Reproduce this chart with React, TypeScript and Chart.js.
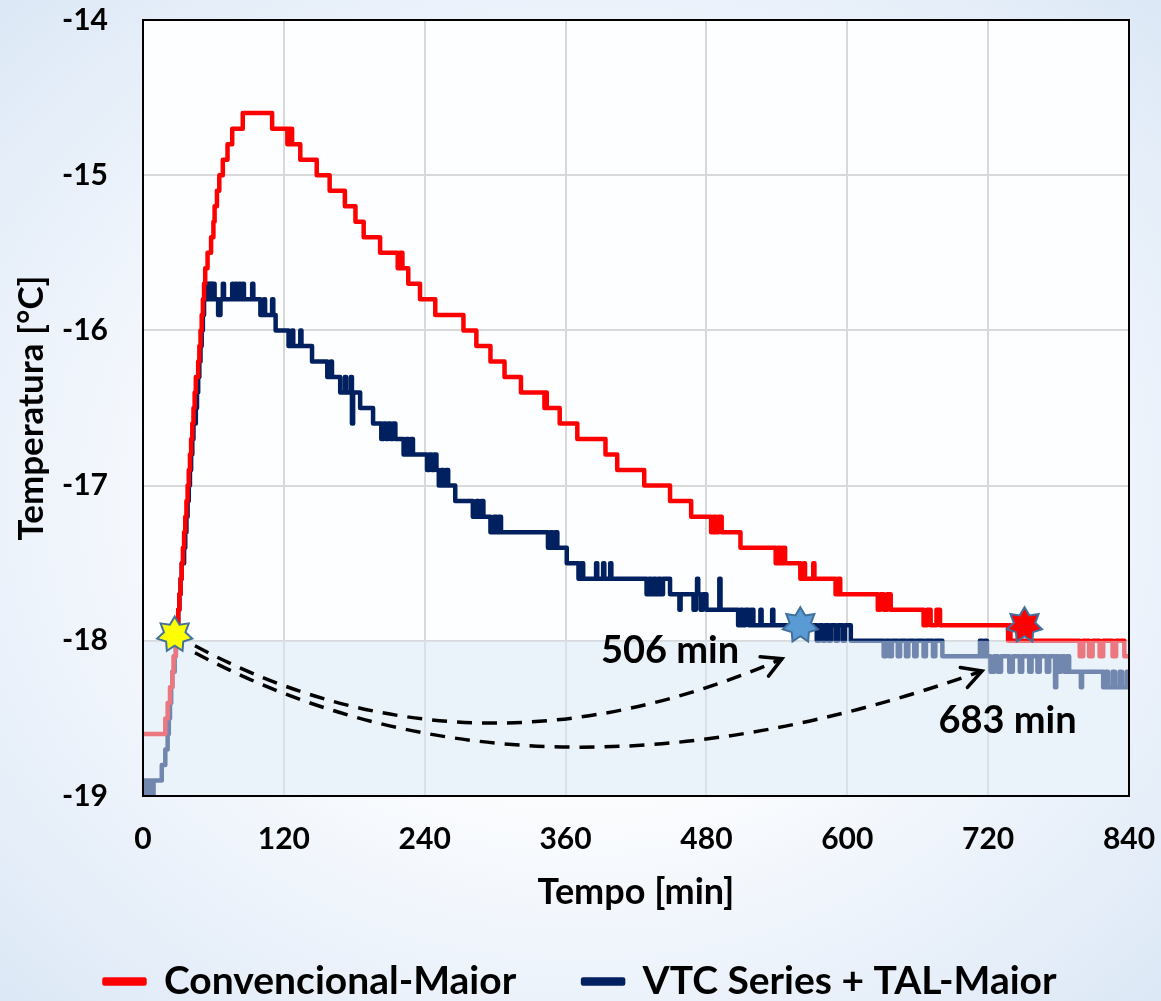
import React, { useEffect, useRef } from 'react';
import { Chart, registerables } from 'chart.js';

Chart.register(...registerables);

// ---------- data (minutes, °C) ----------
const X_MIN = 0;
const X_MAX = 840;
const X_STEP = 120;
const Y_MIN = -19;
const Y_MAX = -14;
const Y_STEP = 1;

const SERIES_NAMES = ['Convencional-Maior', 'VTC Series + TAL-Maior'];
const SERIES_COLORS = ['#ff0000', '#002060'];

// stepped series: [time in min, temperature from that time on]
const CONV_STEPS: [number, number][] = [
  [0, -18.6], [19, -18.5], [21, -18.4], [23, -18.3], [25, -18.2], [26, -18.1], [28, -18.0], [29, -17.9],
  [30, -17.8], [31, -17.7], [32, -17.6], [33, -17.5], [34, -17.4], [35, -17.3], [36, -17.2], [37, -17.1],
  [38, -17.0], [39, -16.9], [40, -16.8], [41, -16.7], [42, -16.6], [43, -16.5], [44, -16.4], [45, -16.3],
  [47, -16.2], [48, -16.1], [49, -16.0], [50, -15.9], [51, -15.8], [52, -15.7], [53, -15.6], [55, -15.5],
  [58, -15.4], [60, -15.3], [61, -15.2], [63, -15.1], [65, -15.0], [68, -14.9], [72, -14.8], [76, -14.7],
  [85, -14.6], [110, -14.7], [123, -14.8], [124, -14.7], [125, -14.8], [126, -14.7], [127, -14.8],
  [134, -14.9], [148, -15.0], [159, -15.1], [172, -15.2], [181, -15.3], [188, -15.4], [202, -15.5],
  [217, -15.6], [219, -15.5], [221, -15.6], [226, -15.7], [236, -15.8], [249, -15.9], [273, -16.0],
  [284, -16.1], [296, -16.2], [308, -16.3], [322, -16.4], [342, -16.5], [343, -16.4], [344, -16.5],
  [355, -16.6], [370, -16.7], [394, -16.8], [404, -16.9], [427, -17.0], [449, -17.1], [467, -17.2],
  [484, -17.3], [486, -17.2], [488, -17.3], [490, -17.2], [493, -17.3], [509, -17.4], [539, -17.5],
  [541, -17.4], [543, -17.5], [545, -17.4], [547, -17.5], [560, -17.6], [563, -17.5], [564, -17.6],
  [571, -17.5], [572, -17.6], [590, -17.7], [592, -17.6], [594, -17.7], [626, -17.8], [628, -17.7],
  [631, -17.8], [634, -17.7], [637, -17.8], [665, -17.9], [668, -17.8], [671, -17.9], [676, -17.8],
  [679, -17.9], [737, -18.0], [738, -17.9], [739, -18.0], [798, -18.1], [801, -18.0], [806, -18.1],
  [809, -18.0], [815, -18.1], [818, -18.0], [826, -18.1], [829, -18.0], [836, -18.1], [840, -18.1],
];

const VTC_STEPS: [number, number][] = [
  [0, -19.0], [1, -18.9], [2, -19.0], [3, -18.9], [4, -19.0], [5, -18.9], [6, -19.0], [7, -18.9],
  [8, -19.0], [9, -18.9], [16, -18.8], [19, -18.7], [21, -18.6], [22, -18.5], [23, -18.4], [24, -18.3],
  [25, -18.2], [27, -18.1], [28, -18.0], [29, -17.9], [30, -17.8], [31, -17.7], [32, -17.6], [33, -17.5],
  [35, -17.4], [36, -17.3], [37, -17.2], [38, -17.1], [39, -17.0], [40, -16.9], [41, -16.8], [42, -16.7],
  [43, -16.6], [45, -16.5], [46, -16.4], [47, -16.3], [48, -16.2], [49, -16.1], [50, -16.0], [51, -15.9],
  [52, -15.8], [54, -15.7], [56, -15.8], [57, -15.7], [58, -15.8], [59, -15.7], [61, -15.8], [64, -15.9],
  [66, -15.8], [68, -15.7], [69, -15.8], [76, -15.7], [77, -15.8], [79, -15.7], [80, -15.8], [82, -15.7],
  [83, -15.8], [85, -15.7], [86, -15.8], [93, -15.7], [94, -15.8], [100, -15.9], [103, -15.8],
  [104, -15.9], [110, -15.8], [111, -15.9], [113, -16.0], [124, -16.1], [127, -16.0], [128, -16.1],
  [134, -16.0], [135, -16.1], [144, -16.2], [157, -16.3], [160, -16.2], [161, -16.3], [168, -16.4],
  [172, -16.3], [173, -16.4], [177, -16.3], [178, -16.6], [179, -16.4], [185, -16.5], [196, -16.6],
  [203, -16.7], [205, -16.6], [207, -16.7], [209, -16.6], [211, -16.7], [213, -16.6], [215, -16.7],
  [222, -16.8], [224, -16.7], [226, -16.8], [228, -16.7], [230, -16.8], [242, -16.9], [244, -16.8],
  [246, -16.9], [248, -16.8], [250, -16.9], [252, -17.0], [254, -16.9], [256, -17.0], [258, -16.9],
  [260, -17.0], [266, -17.1], [281, -17.2], [284, -17.1], [286, -17.2], [288, -17.1], [290, -17.2],
  [296, -17.3], [299, -17.2], [301, -17.3], [303, -17.2], [305, -17.3], [345, -17.4], [347, -17.3],
  [349, -17.4], [351, -17.3], [353, -17.4], [361, -17.5], [371, -17.6], [373, -17.5], [375, -17.6],
  [386, -17.5], [387, -17.6], [392, -17.5], [393, -17.6], [398, -17.5], [399, -17.6], [429, -17.7],
  [431, -17.6], [433, -17.7], [435, -17.6], [437, -17.7], [439, -17.6], [441, -17.7], [443, -17.6],
  [449, -17.7], [457, -17.8], [458, -17.7], [469, -17.8], [471, -17.7], [472, -17.6], [473, -17.7],
  [475, -17.8], [477, -17.7], [480, -17.8], [491, -17.6], [492, -17.8], [507, -17.9], [509, -17.8],
  [511, -17.9], [513, -17.8], [516, -17.9], [518, -17.8], [520, -17.9], [526, -17.8], [527, -17.9],
  [536, -17.8], [537, -17.9], [574, -18.0], [576, -17.9], [579, -18.0], [581, -17.9], [584, -18.0],
  [586, -17.9], [590, -18.0], [592, -17.9], [596, -18.0], [598, -17.9], [603, -18.0], [631, -18.1],
  [633, -18.0], [636, -18.1], [638, -18.0], [643, -18.1], [645, -18.0], [650, -18.1], [652, -18.0],
  [657, -18.1], [659, -18.0], [665, -18.1], [667, -18.0], [673, -18.1], [675, -18.0], [681, -18.1],
  [713, -18.0], [715, -18.1], [717, -18.0], [719, -18.1], [722, -18.2], [725, -18.1], [728, -18.2],
  [731, -18.1], [738, -18.2], [741, -18.1], [747, -18.2], [749, -18.1], [755, -18.2], [757, -18.1],
  [762, -18.2], [764, -18.1], [770, -18.2], [772, -18.1], [777, -18.3], [778, -18.1], [780, -18.2],
  [782, -18.1], [785, -18.2], [787, -18.1], [789, -18.2], [799, -18.3], [800, -18.2], [818, -18.3],
  [820, -18.2], [822, -18.3], [826, -18.2], [828, -18.3], [832, -18.2], [834, -18.3], [838, -18.2],
  [840, -18.3],
];

// shaded band (below the -18 °C threshold)
const SHADE_FROM = -18;
const SHADE_TO = -19;

// star markers: [time, temperature]
const STAR_POINTS: [number, number][] = [[27, -17.96], [560, -17.9], [751, -17.9]];
const STAR_FILLS = ['#ffff00', '#5b9bd5', '#ff0000'];

// curved dashed arrows: start, control, end (data coordinates)
const ARROW_START: [number, number][] = [[44.3, -18.032], [44.3, -18.077]];
const ARROW_CTRL: [number, number][] = [[279.9, -18.984], [331.0, -19.232]];
const ARROW_END: [number, number][] = [[544.4, -18.116], [714.8, -18.194]];
const ARROW_LABELS = ['506 min', '683 min'];
const ARROW_LABEL_POS: [number, number][] = [[449, -18.142], [736.5, -18.594]];

const FONT = 'Lato, "Open Sans", sans-serif';
const LEGEND_GAP = '      ';

function drawStar(ctx: CanvasRenderingContext2D, cx: number, cy: number, R: number, r: number, n: number, fill: string) {
  ctx.beginPath();
  for (let i = 0; i < 2 * n; i++) {
    const ang = -Math.PI / 2 + (i * Math.PI) / n;
    const rad = i % 2 === 0 ? R : r;
    const px = cx + rad * Math.cos(ang);
    const py = cy + rad * Math.sin(ang);
    if (i === 0) ctx.moveTo(px, py);
    else ctx.lineTo(px, py);
  }
  ctx.closePath();
  ctx.fillStyle = fill;
  ctx.fill();
  ctx.lineWidth = 2;
  ctx.strokeStyle = '#41719c';
  ctx.lineJoin = 'miter';
  ctx.stroke();
}

const decorPlugin = {
  id: 'decor',
  beforeDraw(chart: any) {
    const { ctx, chartArea: a } = chart;
    ctx.save();
    ctx.fillStyle = '#fdfeff';
    ctx.fillRect(a.left, a.top, a.right - a.left, a.bottom - a.top);
    ctx.restore();
  },
  afterDatasetsDraw(chart: any) {
    const { ctx, chartArea: a } = chart;
    const xs = chart.scales.x;
    const ys = chart.scales.y;
    const X = (v: number) => xs.getPixelForValue(v);
    const Y = (v: number) => ys.getPixelForValue(v);
    ctx.save();
    // translucent band
    const y0 = Y(SHADE_FROM);
    const y1 = Y(SHADE_TO);
    ctx.fillStyle = 'rgba(216,230,246,0.52)';
    ctx.fillRect(a.left, y0, a.right - a.left, y1 - y0);

    // plot frame
    ctx.strokeStyle = '#000';
    ctx.lineWidth = 2;
    ctx.strokeRect(a.left, a.top, a.right - a.left, a.bottom - a.top);

    // arrows
    for (let i = 0; i < ARROW_START.length; i++) {
      const p0 = { x: X(ARROW_START[i][0]), y: Y(ARROW_START[i][1]) };
      const c = { x: X(ARROW_CTRL[i][0]), y: Y(ARROW_CTRL[i][1]) };
      const p2 = { x: X(ARROW_END[i][0]), y: Y(ARROW_END[i][1]) };
      ctx.strokeStyle = '#000';
      ctx.lineWidth = 3.5;
      ctx.lineCap = 'butt';
      ctx.setLineDash([15, 10]);
      ctx.beginPath();
      ctx.moveTo(p0.x, p0.y);
      ctx.quadraticCurveTo(c.x, c.y, p2.x, p2.y);
      ctx.stroke();
      ctx.setLineDash([]);
      const ang = Math.atan2(p2.y - c.y, p2.x - c.x);
      const L = 22;
      const sp = 0.5;
      ctx.lineCap = 'round';
      ctx.lineJoin = 'miter';
      ctx.beginPath();
      ctx.moveTo(p2.x - L * Math.cos(ang - sp), p2.y - L * Math.sin(ang - sp));
      ctx.lineTo(p2.x, p2.y);
      ctx.lineTo(p2.x - L * Math.cos(ang + sp), p2.y - L * Math.sin(ang + sp));
      ctx.stroke();
    }

    // stars
    for (let i = 0; i < STAR_POINTS.length; i++) {
      drawStar(ctx, X(STAR_POINTS[i][0]), Y(STAR_POINTS[i][1]), 18, 11, 7, STAR_FILLS[i]);
    }

    // labels
    ctx.fillStyle = '#000';
    ctx.font = `bold 38px ${FONT}`;
    ctx.textAlign = 'center';
    ctx.textBaseline = 'alphabetic';
    for (let i = 0; i < ARROW_LABELS.length; i++) {
      ctx.fillText(ARROW_LABELS[i], X(ARROW_LABEL_POS[i][0]), Y(ARROW_LABEL_POS[i][1]));
    }
    ctx.restore();
  },
};

export default function App() {
  const ref = useRef<HTMLCanvasElement | null>(null);

  useEffect(() => {
    const canvas = ref.current;
    if (!canvas) return;
    const mk = (steps: [number, number][]) => steps.map(([x, y]) => ({ x, y }));
    const chart = new Chart(canvas, {
      type: 'line',
      data: {
        datasets: [
          {
            label: SERIES_NAMES[0],
            data: mk(CONV_STEPS),
            borderColor: SERIES_COLORS[0],
            backgroundColor: SERIES_COLORS[0],
            borderWidth: 4.5,
            stepped: 'before',
            pointRadius: 0,
            borderJoinStyle: 'round',
            borderCapStyle: 'round',
            fill: false,
          },
          {
            label: SERIES_NAMES[1],
            data: mk(VTC_STEPS),
            borderColor: SERIES_COLORS[1],
            backgroundColor: SERIES_COLORS[1],
            borderWidth: 4.5,
            stepped: 'before',
            pointRadius: 0,
            borderJoinStyle: 'round',
            borderCapStyle: 'round',
            fill: false,
          },
        ],
      },
      options: {
        responsive: false,
        animation: false,
        devicePixelRatio: 1,
        layout: { padding: { top: 20, right: 32, left: 32, bottom: -10 } },
        plugins: {
          legend: {
            position: 'bottom',
            labels: {
              boxWidth: 40,
              boxHeight: 4,
              padding: 10,
              color: '#000',
              font: { family: FONT, size: 39, weight: 'bold' },
              generateLabels: (ch: any) => {
                const items = (Chart.defaults as any).plugins.legend.labels.generateLabels(ch);
                if (items.length > 0) items[0].text = items[0].text + LEGEND_GAP;
                return items;
              },
            },
          },
          tooltip: { enabled: false },
        },
        scales: {
          x: {
            type: 'linear',
            min: X_MIN,
            max: X_MAX,
            afterFit: (s: any) => {
              s.height = 156;
              s.paddingLeft = 0;
              s.paddingRight = 0;
            },
            ticks: {
              stepSize: X_STEP,
              padding: 25,
              color: '#000',
              font: { family: FONT, size: 30, weight: 'bold' },
            },
            grid: { color: '#d9d9d9', lineWidth: 2, drawTicks: false },
            border: { display: false },
            title: {
              display: true,
              text: 'Tempo [min]',
              color: '#000',
              font: { family: FONT, size: 36, weight: 'bold' },
              padding: { top: 0, bottom: 38 },
            },
          },
          y: {
            type: 'linear',
            min: Y_MIN,
            max: Y_MAX,
            afterFit: (s: any) => {
              s.width = 111;
              s.paddingTop = 0;
              s.paddingBottom = 0;
            },
            ticks: {
              stepSize: Y_STEP,
              padding: 35,
              color: '#000',
              font: { family: FONT, size: 30, weight: 'bold' },
            },
            grid: { color: '#d9d9d9', lineWidth: 2, drawTicks: false },
            border: { display: false },
            title: {
              display: true,
              text: 'Temperatura [°C]',
              color: '#000',
              font: { family: FONT, size: 35, weight: 'bold' },
              padding: { top: -21, bottom: 0 },
            },
          },
        },
      },
      plugins: [decorPlugin],
    } as any);
    return () => chart.destroy();
  }, []);

  return (
    <div
      style={{
        position: 'fixed',
        left: 0,
        top: 0,
        width: 1161,
        height: 1001,
        overflow: 'hidden',
        background:
          'radial-gradient(ellipse at 50% 50%, #ffffff 35%, #edf3fb 68%, #dce8f6 100%)',
      }}
    >
      <canvas ref={ref} width={1161} height={1001} style={{ display: 'block', width: 1161, height: 1001 }} />
    </div>
  );
}
